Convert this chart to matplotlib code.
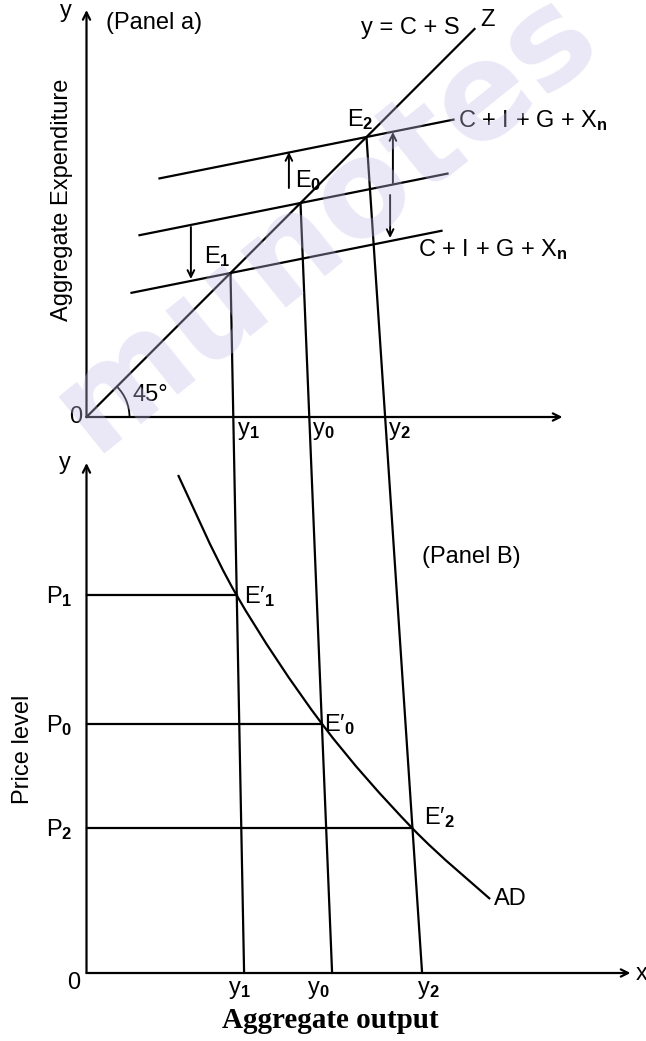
import numpy as np
import matplotlib
matplotlib.use('Agg')
import matplotlib.pyplot as plt
from matplotlib.patches import Arc, ConnectionPatch, PathPatch
from matplotlib.path import Path

plt.rcParams['font.family'] = ['Liberation Sans', 'DejaVu Sans']
plt.rcParams['mathtext.fontset'] = 'custom'
plt.rcParams['mathtext.rm'] = 'Liberation Sans'
plt.rcParams['mathtext.bf'] = 'Liberation Sans:bold'
plt.rcParams['mathtext.it'] = 'Liberation Sans:italic'

# ---------------- data (diagram units) ----------------
# Panel a: 45-degree line and aggregate expenditure lines
eq_names = ['1', '0', '2']                 # E1, E0, E2
eq_output = [36.0, 53.5, 70.0]             # output at E1, E0, E2 (on 45° line)
ae_slope = 0.2
ae_intercept = [28.8, 42.8, 56.0]          # lower, middle, upper AE lines
ae_x_start = [11.25, 13.25, 18.25]
ae_x_end = [88.75, 90.25, 91.75]
line45_end = 97.0
axis_a_xmax, axis_a_ymax = 119.0, 101.75

# shift arrows in panel a
shift_x = [26.1, 50.6, 76.6, 75.9]
shift_from = [47.5, 57.25, 58.5, 55.5]
shift_to = [34.5, 66.25, 71.25, 44.75]

# Panel b: AD curve
price_names = ['1', '0', '2']
price_levels = [94.5, 62.25, 36.25]        # P1, P0, P2
ad_output_at_p = [37.5, 58.9, 81.4]        # E'1, E'0, E'2
drop_bottom = [39.4, 61.4, 83.9]           # where the projection lines meet x axis
ad_x = [22.9, 37.5, 58.9, 81.4, 100.9]
ad_y = [124.5, 94.5, 62.25, 36.25, 18.5]
axis_b_xmax, axis_b_ymax = 136.0, 127.5

# ---------------- figure layout ----------------
W, H = 646, 1041
U = 4.0          # pixels per diagram unit
OX = 86.5
fig = plt.figure(figsize=(W / 100, H / 100), dpi=100)
fig.patch.set_facecolor('white')

ax_a = fig.add_axes([OX / W, (H - 417) / H, (W - OX) / W, 417 / H])
ax_a.set_xlim(0, (W - OX) / U)
ax_a.set_ylim(0, 417 / U)
ax_b = fig.add_axes([OX / W, (H - 973) / H, (W - OX) / W, (973 - 440) / H])
ax_b.set_xlim(0, (W - OX) / U)
ax_b.set_ylim(0, (973 - 440) / U)
for ax in (ax_a, ax_b):
    ax.set_axis_off()
    ax.patch.set_alpha(0)

LW = 1.6
FS = 17
k = 'black'
arrow_kw = dict(arrowstyle='->', lw=LW, color=k, shrinkA=0, shrinkB=0, mutation_scale=13)

# ---------------- panel a ----------------
ax_a.annotate('', xy=(0, axis_a_ymax), xytext=(0, 0), arrowprops=arrow_kw, annotation_clip=False)
ax_a.annotate('', xy=(axis_a_xmax, 0), xytext=(0, 0), arrowprops=arrow_kw, annotation_clip=False)
ax_a.plot([0, line45_end], [0, line45_end], color=k, lw=LW, clip_on=False)
for a, xs, xe in zip(ae_intercept, ae_x_start, ae_x_end):
    xx = np.array([xs, xe])
    ax_a.plot(xx, a + ae_slope * xx, color=k, lw=LW, clip_on=False)
for x, y0, y1 in zip(shift_x, shift_from, shift_to):
    ax_a.annotate('', xy=(x, y1), xytext=(x, y0),
                  arrowprops=dict(arrowstyle='->', lw=1.4, color=k, shrinkA=0, shrinkB=0,
                                  mutation_scale=12), annotation_clip=False)
ax_a.add_patch(Arc((0, 0), 2 * 10.75, 2 * 10.75, theta1=0, theta2=45, lw=1.3, color=k))

ax_a.text(-5.1, 101.5, 'y', fontsize=FS, ha='center', va='center')
ax_a.text(5.0, 98.5, '(Panel a)', fontsize=FS, ha='left', va='center')
ax_a.text(93.4, 97.3, 'y = C + S', fontsize=FS, ha='right', va='center')
ax_a.text(98.5, 99.3, 'Z', fontsize=FS, ha='left', va='center')
xn = r'C + I + G + X$_{\mathbf{n}}$'
ax_a.text(92.9, 72.5, xn, fontsize=FS, ha='left', va='baseline')
ax_a.text(82.9, 40.3, xn, fontsize=FS, ha='left', va='baseline')
eq_lab_pos = [(36.1, 38.4, 'right'), (52.1, 57.5, 'left'), (65.1, 72.75, 'left')]
for name, (x, y, ha) in zip(eq_names, eq_lab_pos):
    ax_a.text(x, y, r'E$_{\mathbf{%s}}$' % name, fontsize=FS, ha=ha, va='baseline')
ax_a.text(-1.0, 0, '0', fontsize=FS, ha='right', va='center')
ax_a.text(11.4, 5.5, '45°', fontsize=FS, ha='left', va='center')
sub_a_x = [37.6, 56.4, 75.4]
for name, x in zip(eq_names, sub_a_x):
    ax_a.text(x, -0.8, r'y$_{\mathbf{%s}}$' % name, fontsize=FS, ha='left', va='top')
ax_a.text(-6.1, 54.25, 'Aggregate Expenditure', fontsize=FS, rotation=90,
          ha='center', va='center')

# ---------------- panel b ----------------
ax_b.annotate('', xy=(0, axis_b_ymax), xytext=(0, 0), arrowprops=arrow_kw, annotation_clip=False)
ax_b.annotate('', xy=(axis_b_xmax, 0), xytext=(0, 0), arrowprops=arrow_kw, annotation_clip=False)
for p, x in zip(price_levels, ad_output_at_p):
    ax_b.plot([0, x], [p, p], color=k, lw=LW, clip_on=False)

# smooth AD curve through the read points (Catmull-Rom -> cubic Bezier)
pts = np.column_stack([ad_x, ad_y])
ext = np.vstack([pts[0], pts, pts[-1]])
verts = [pts[0]]
codes = [Path.MOVETO]
for i in range(1, len(ext) - 2):
    p0, p1, p2, p3 = ext[i - 1], ext[i], ext[i + 1], ext[i + 2]
    verts += [p1 + (p2 - p0) / 6, p2 - (p3 - p1) / 6, p2]
    codes += [Path.CURVE4] * 3
ax_b.add_patch(PathPatch(Path(verts, codes), fill=False, lw=LW, edgecolor=k, clip_on=False))

ax_b.text(-5.4, 127.5, 'y', fontsize=FS, ha='center', va='center')
ax_b.text(-3.1, -2.4, '0', fontsize=FS, ha='center', va='center')
ax_b.text(137.2, -0.3, 'x', fontsize=FS, ha='left', va='center')
for name, p in zip(price_names, price_levels):
    ax_b.text(-3.4, p - 2.0, r'P$_{\mathbf{%s}}$' % name, fontsize=FS, ha='right', va='baseline')
ep_lab_pos = [(39.4, 92.5), (59.4, 60.5), (84.4, 37.25)]
for name, (x, y) in zip(price_names, ep_lab_pos):
    ax_b.text(x, y, "E\u2032" + r"$_{\mathbf{%s}}$" % name, fontsize=FS, ha='left',
              va='baseline', family=['Liberation Sans', 'DejaVu Sans'])
ax_b.text(101.9, 18.5, 'AD', fontsize=FS, ha='left', va='center')
ax_b.text(83.9, 104.0, '(Panel B)', fontsize=FS, ha='left', va='center')
sub_b_x = [35.4, 55.1, 82.6]
for name, x in zip(price_names, sub_b_x):
    ax_b.text(x, -1.6, r'y$_{\mathbf{%s}}$' % name, fontsize=FS, ha='left', va='top')
ax_b.text(-15.9, 56.0, 'Price level', fontsize=FS, rotation=90, ha='center', va='center')

# projection lines from panel a equilibria down to panel b
for y_eq, xb in zip(eq_output, drop_bottom):
    con = ConnectionPatch(xyA=(y_eq, y_eq), coordsA=ax_a.transData,
                          xyB=(xb, 0), coordsB=ax_b.transData, color=k, lw=LW)
    fig.add_artist(con)

fig.text(330 / W, 1 - 1020 / H, 'Aggregate output', fontsize=21, fontweight='bold',
         family='Liberation Serif', ha='center', va='center')

# faint watermark
fig.text(325 / W, 1 - 220 / H, 'munotes', fontsize=96, fontweight='bold',
         family='DejaVu Sans', color='#c4bce6', alpha=0.35, rotation=38.8,
         ha='center', va='center', zorder=10)

fig.savefig('out.png', dpi=100, facecolor='white')
